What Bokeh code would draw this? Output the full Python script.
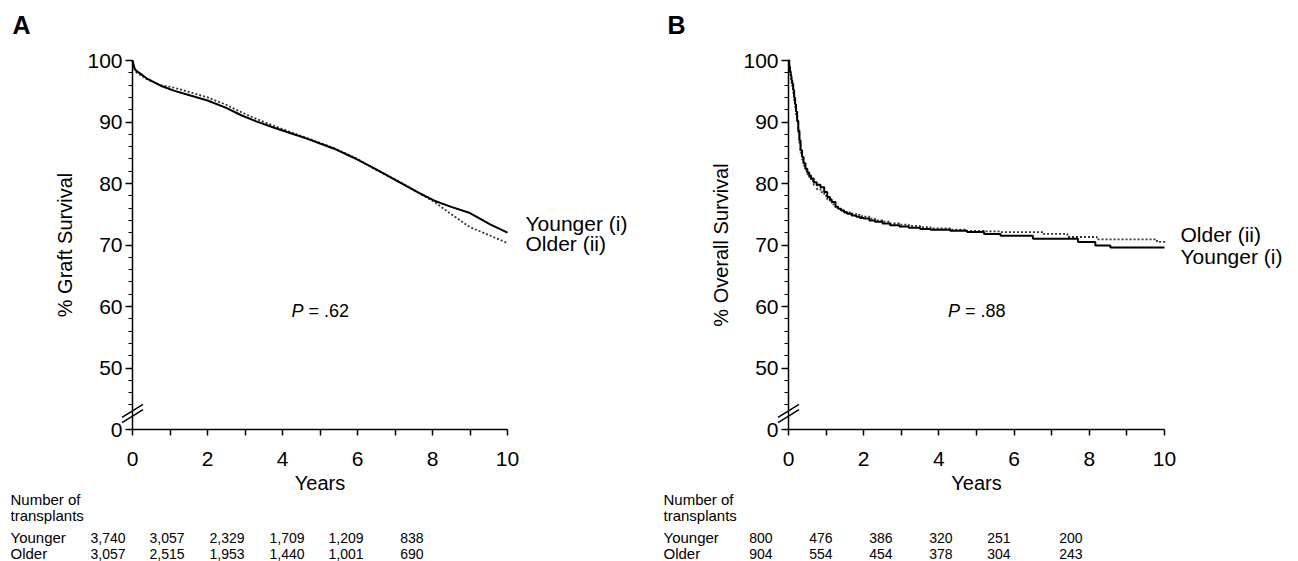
from bokeh.plotting import figure
from bokeh.models import Range1d, FixedTicker, Label, LinearAxis
from bokeh.layouts import row
from bokeh.embed import file_html
from bokeh.resources import INLINE

FONT = "Liberation Sans"

# ---------------- data ----------------
x_major_ticks = [0, 2, 4, 6, 8, 10]
x_minor_ticks = [1, 3, 5, 7, 9]
y_major_ticks = [40, 50, 60, 70, 80, 90, 100]   # 40 is drawn as the broken-axis "0"
y_tick_overrides = {40: "0"}
y_minor_ticks = [44, 46, 48, 52, 54, 56, 58, 62, 64, 66, 68, 72, 74, 76, 78,
                 82, 84, 86, 88, 92, 94, 96, 98]

# Panel A: graft survival (%)
graft_young_t = [0, 0.05, 0.1, 0.2, 0.4, 0.75, 1.1, 1.5, 2.0, 2.5, 2.9, 3.3, 3.76,
                 4.2, 4.65, 5.0, 5.36, 6.0, 6.5, 7.15, 7.6, 8.05, 8.5, 9.0, 9.55, 10.0]
graft_young_s = [100, 98.8, 98.3, 97.9, 97.0, 95.9, 95.1, 94.4, 93.5, 92.3, 91.1, 90.1, 89.1,
                 88.2, 87.3, 86.5, 85.7, 83.9, 82.3, 80.1, 78.6, 77.2, 76.2, 75.2, 73.3, 72.0]
graft_old_t = [0, 0.05, 0.1, 0.2, 0.4, 0.75, 1.1, 1.5, 2.0, 2.5, 2.9, 3.3, 3.76,
               4.2, 4.65, 5.0, 5.36, 6.0, 6.5, 7.15, 7.6, 8.05, 8.5, 9.0, 9.55, 10.0]
graft_old_s = [100, 98.6, 98.1, 97.7, 96.9, 96.0, 95.6, 94.9, 94.0, 92.8, 91.6, 90.5, 89.4,
               88.4, 87.4, 86.6, 85.8, 84.0, 82.2, 80.2, 78.6, 77.0, 75.0, 72.9, 71.5, 70.3]

# Panel B: overall survival (%)
os_young_t = [0, 0.02, 0.04, 0.06, 0.08, 0.10, 0.125, 0.15, 0.175, 0.2, 0.23, 0.26, 0.29,
              0.32, 0.36, 0.40, 0.45, 0.5, 0.55, 0.6, 0.67, 0.75, 0.85, 0.95, 1.03, 1.1,
              1.15, 1.25, 1.32, 1.4, 1.48, 1.56, 1.68, 1.8, 1.9, 2.0, 2.15, 2.3, 2.5, 2.7,
              2.95, 3.2, 3.5, 3.78, 4.3, 4.75, 5.2, 5.64, 6.5, 7.7, 8.16, 8.56, 10.0]
os_young_s = [100, 99.0, 98.2, 97.5, 96.8, 96.2, 95.2, 94.0, 92.9, 91.7, 90.2, 88.6, 87.0,
              85.4, 84.3, 83.3, 82.4, 81.8, 81.3, 80.8, 80.2, 79.8, 79.4, 78.6, 77.8, 77.4,
              77.0, 76.2, 75.9, 75.6, 75.3, 75.1, 74.8, 74.6, 74.4, 74.3, 74.0, 73.8, 73.5, 73.2,
              73.0, 72.8, 72.6, 72.5, 72.3, 72.1, 71.8, 71.5, 71.0, 70.5, 69.9, 69.6, 69.6]
os_old_t = [0, 0.02, 0.04, 0.06, 0.08, 0.10, 0.125, 0.15, 0.175, 0.2, 0.23, 0.26, 0.29,
            0.32, 0.36, 0.40, 0.45, 0.5, 0.55, 0.6, 0.67, 0.75, 0.85, 0.95, 1.03, 1.1,
            1.15, 1.25, 1.32, 1.4, 1.48, 1.56, 1.68, 1.8, 1.9, 2.0, 2.15, 2.3, 2.5, 2.7,
            2.95, 3.2, 3.5, 3.78, 4.3, 4.75, 5.2, 5.64, 6.78, 7.42, 8.2, 9.8, 10.0]
os_old_s = [100, 98.8, 97.9, 97.0, 96.4, 95.8, 94.7, 93.5, 92.4, 91.2, 89.8, 88.2, 86.6,
            85.0, 83.9, 82.9, 82.0, 81.5, 81.0, 80.4, 79.8, 79.1, 78.6, 78.0, 77.4, 77.0,
            76.6, 76.0, 75.8, 75.6, 75.4, 75.3, 75.1, 74.9, 74.7, 74.6, 74.3, 74.0, 73.8, 73.5,
            73.3, 73.1, 72.9, 72.7, 72.5, 72.3, 72.2, 72.1, 71.8, 71.3, 70.9, 70.5, 70.2]

risk_rows = ["Younger", "Older"]
risk_title = ["Number of", "transplants"]
graft_risk_young = ["3,740", "3,057", "2,329", "1,709", "1,209", "838"]
graft_risk_old = ["3,057", "2,515", "1,953", "1,440", "1,001", "690"]
os_risk_young = ["800", "476", "386", "320", "251", "200"]
os_risk_old = ["904", "554", "454", "378", "304", "243"]

young_label = "Younger (i)"
old_label = "Older (ii)"

# ---------------- layout constants (page pixels) ----------------
FIG_H = 561
FRAME_TOP = 60      # pixel row of 100 %
FRAME_BOTTOM = 429  # pixel row of the x axis (broken "0")


def make_panel(letter, ylabel, yt, ys, ot, os_, pval, risk_y, risk_o, geo, stepped, label_y):
    fig_left = geo["fig_left"]
    ax_left = geo["frame_left"] - fig_left
    ax_w = geo["frame_w"]
    fig_w = geo["fig_w"]
    ax_h = FRAME_BOTTOM - FRAME_TOP
    pxx = ax_w / 10.0
    pxy = ax_h / 60.0

    def X(px_abs):
        return (px_abs - fig_left - ax_left) / pxx

    def Y(py):
        return 40.0 + (FRAME_BOTTOM - py) / pxy

    p = figure(width=fig_w, height=FIG_H,
               x_range=Range1d(X(fig_left), X(fig_left + fig_w)),
               y_range=Range1d(Y(FIG_H), Y(0)),
               output_backend="svg", toolbar_location=None,
               x_axis_location=None, y_axis_location=None,
               min_border=0, min_border_left=0, min_border_right=0,
               min_border_top=0, min_border_bottom=0)
    p.outline_line_color = None
    p.background_fill_color = "white"
    p.border_fill_color = "white"
    for g in p.grid:
        g.visible = False

    # x axis
    xa = LinearAxis(fixed_location=40, bounds=(0, 10))
    xa.ticker = FixedTicker(ticks=x_major_ticks, minor_ticks=x_minor_ticks)
    xa.axis_label = "Years"
    xa.axis_line_width = 1.5
    xa.major_tick_out = 6
    xa.major_tick_in = 0
    xa.minor_tick_out = 6
    xa.minor_tick_in = 0
    xa.major_tick_line_width = 1.5
    xa.minor_tick_line_width = 1.5
    xa.major_label_text_font = FONT
    xa.major_label_text_font_size = "21px"
    xa.major_label_text_color = "black"
    xa.major_label_standoff = 16
    xa.axis_label_text_font = FONT
    xa.axis_label_text_font_size = "20px"
    xa.axis_label_text_font_style = "normal"
    xa.axis_label_text_color = "black"
    xa.axis_label_standoff = 3
    p.add_layout(xa, "below")

    # y axis
    ya = LinearAxis(fixed_location=0, bounds=(40, 100))
    ya.ticker = FixedTicker(ticks=y_major_ticks, minor_ticks=y_minor_ticks)
    ya.major_label_overrides = y_tick_overrides
    ya.axis_label = ylabel
    ya.axis_line_width = 1.5
    ya.major_tick_out = 7
    ya.major_tick_in = 0
    ya.minor_tick_out = 4
    ya.minor_tick_in = 0
    ya.major_tick_line_width = 1.5
    ya.minor_tick_line_width = 1.2
    ya.major_label_text_font = FONT
    ya.major_label_text_font_size = "21px"
    ya.major_label_text_color = "black"
    ya.major_label_standoff = 3
    ya.axis_label_text_font = FONT
    ya.axis_label_text_font_size = "20px"
    ya.axis_label_text_font_style = "normal"
    ya.axis_label_text_color = "black"
    ya.axis_label_standoff = 8
    p.add_layout(ya, "left")

    # curves
    if stepped:
        p.step(ot, os_, mode="after", line_color="#333333", line_width=1.8, line_dash="2 2")
        p.step(yt, ys, mode="after", line_color="black", line_width=2.0)
    else:
        p.line(ot, os_, line_color="#333333", line_width=1.8, line_dash="2 2")
        p.line(yt, ys, line_color="black", line_width=2.0)

    # axis break marks (two short parallel slashes across the y axis)
    by = Y(413)
    dx = 10.5 / pxx
    dyu = 6.5 / pxy
    gap = 2.6 / pxy
    p.segment(x0=[-dx, -dx], y0=[by - dyu - gap, by - dyu + gap],
              x1=[dx, dx], y1=[by + dyu - gap, by + dyu + gap],
              line_color="black", line_width=1.5)

    # curve labels
    for txt, cy in zip([young_label, old_label], label_y):
        p.add_layout(Label(x=X(geo["curve_label_x"]), y=Y(cy), text=txt,
                           text_font=FONT, text_font_size="21px", text_color="black",
                           text_align="left", text_baseline="middle"))

    # P value
    p.add_layout(Label(x=5, y=Y(310), text="P", x_offset=-16.5,
                       text_font=FONT, text_font_size="18px", text_font_style="italic",
                       text_align="right", text_baseline="middle", text_color="black"))
    p.add_layout(Label(x=5, y=Y(310), text="= " + pval, x_offset=-11.5,
                       text_font=FONT, text_font_size="18px",
                       text_align="left", text_baseline="middle", text_color="black"))

    # panel letter
    p.add_layout(Label(x=X(geo["letter_x"]), y=Y(24), text=letter,
                       text_font=FONT, text_font_size="25px", text_font_style="bold",
                       text_align="left", text_baseline="middle", text_color="black"))

    # number at risk table
    for txt, cy in zip(risk_title, [499, 515]):
        p.add_layout(Label(x=X(geo["row_label_x"]), y=Y(cy), text=txt,
                           text_font=FONT, text_font_size="15px", text_color="black",
                           text_align="left", text_baseline="middle"))
    for txt, cy in zip(risk_rows, [537, 553]):
        p.add_layout(Label(x=X(geo["row_label_x"]), y=Y(cy), text=txt,
                           text_font=FONT, text_font_size="15px", text_color="black",
                           text_align="left", text_baseline="middle"))
    for vals, cy in zip([risk_y, risk_o], [537, 553]):
        for v, cx in zip(vals, geo["col_right"]):
            p.add_layout(Label(x=X(cx), y=Y(cy), text=v,
                               text_font=FONT, text_font_size="14px", text_color="black",
                               text_align="right", text_baseline="middle"))
    return p


geoA = dict(fig_left=0, fig_w=650, frame_left=132, frame_w=375,
            curve_label_x=525, letter_x=12, row_label_x=10,
            col_right=[125, 184, 244, 304, 363, 423])
geoB = dict(fig_left=650, fig_w=648, frame_left=788, frame_w=376,
            curve_label_x=1180, letter_x=667, row_label_x=663,
            col_right=[772, 832, 892, 952, 1010, 1082])

pA = make_panel("A", "% Graft Survival", graft_young_t, graft_young_s,
                graft_old_t, graft_old_s, ".62", graft_risk_young, graft_risk_old,
                geoA, False, [223, 243])
pB = make_panel("B", "% Overall Survival", os_young_t, os_young_s,
                os_old_t, os_old_s, ".88", os_risk_young, os_risk_old,
                geoB, True, [256, 234])

layout = row(pA, pB)
open("out.html", "w").write(file_html(layout, INLINE))
